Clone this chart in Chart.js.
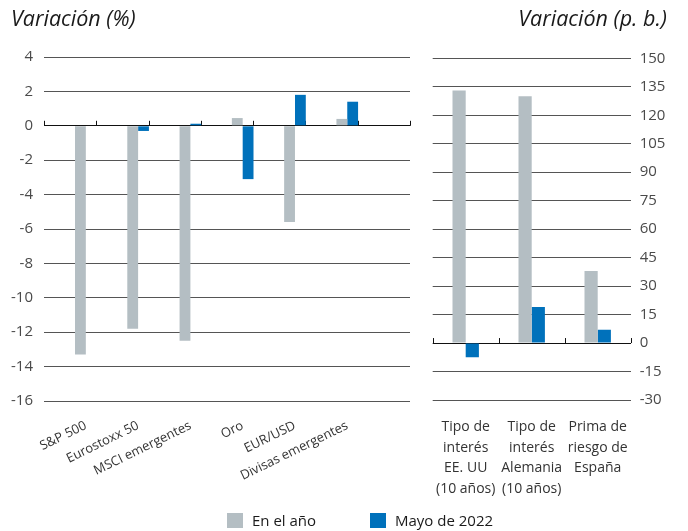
<!DOCTYPE html>
<html>
<head>
<meta charset="utf-8">
<script src="https://cdn.jsdelivr.net/npm/chart.js@4.4.0/dist/chart.umd.min.js"></script>
<style>
  body { margin: 0; width: 688px; height: 531px; position: relative; background: #fff; overflow: hidden; font-family: "Open Sans", sans-serif; }
  #left-wrap { position: absolute; left: 0; top: 0; width: 420px; height: 531px; }
  #right-wrap { position: absolute; left: 420px; top: 0; width: 268px; height: 531px; }
  .title { position: absolute; top: 3px; font-style: italic; font-size: 21.5px; color: #1a1a1a; }
  .legend { position: absolute; top: 510px; font-size: 15px; color: #1a1a1a; display: flex; align-items: center; }
  .legend span.box { display: inline-block; width: 16px; height: 15px; margin-right: 9px; }
</style>
</head>
<body>
<div id="left-wrap"><canvas id="left-canvas"></canvas></div>
<div id="right-wrap"><canvas id="right-canvas"></canvas></div>
<div class="title" style="left:11px">Variación (%)</div>
<div class="title" style="right:21px">Variación (p. b.)</div>
<div id="legend"></div>

<script>
// left panel: markets (%)
const marketLabels = ['S&P 500', 'Eurostoxx 50', 'MSCI emergentes', 'Oro', 'EUR/USD', 'Divisas emergentes'];
const marketYear = [-13.3, -11.8, -12.5, 0.45, -5.6, 0.4];
const marketMay = [0, -0.3, 0.12, -3.1, 1.8, 1.4];
const leftTicks = [-16, -14, -12, -10, -8, -6, -4, -2, 0, 2, 4];

// right panel: rates (basis points)
const rateLabels = [
  ['Tipo de', 'interés', 'EE. UU', '(10 años)'],
  ['Tipo de', 'interés', 'Alemania', '(10 años)'],
  ['Prima de', 'riesgo de', 'España']
];
const rateYear = [133, 130, 38];
const rateMay = [-7.5, 19, 7];
const rightTicks = [-30, -15, 0, 15, 30, 45, 60, 75, 90, 105, 120, 135, 150];

const seriesNames = ['En el año', 'Mayo de 2022'];
const seriesColors = ['#b4bec3', '#0071bb'];

const tickColor = '#4a4a4a';
const gridColor = '#555';

Chart.defaults.font.family = '"Open Sans", sans-serif';
Chart.defaults.animation = false;

// little tick marks sitting on the zero line
const zeroTicks = {
  id: 'zeroTicks',
  beforeDatasetsDraw(chart, args, opts) {
    const x = chart.scales.x, y = chart.scales.y;
    const y0 = y.getPixelForValue(0);
    const ctx = chart.ctx;
    ctx.save();
    ctx.strokeStyle = '#111';
    ctx.lineWidth = 1;
    opts.at.forEach(v => {
      const px = Math.round(x.getPixelForValue(v)) + 0.5;
      ctx.beginPath();
      ctx.moveTo(px, y0);
      ctx.lineTo(px, y0 - 5);
      ctx.stroke();
    });
    ctx.restore();
  }
};

function gridLine(ctx) {
  return ctx.tick && ctx.tick.value === 0 ? '#111' : gridColor;
}

new Chart('left-canvas', {
  type: 'bar',
  data: {
    datasets: [
      { label: seriesNames[0], backgroundColor: seriesColors[0], data: marketYear.map((v, i) => ({ x: i, y: v })) },
      { label: seriesNames[1], backgroundColor: seriesColors[1], data: marketMay.map((v, i) => ({ x: i, y: v })) }
    ]
  },
  options: {
    responsive: true,
    maintainAspectRatio: false,
    layout: { padding: { left: 0, right: 10, top: 57, bottom: 30 } },
    categoryPercentage: 0.414,
    barPercentage: 1,
    plugins: {
      legend: { display: false },
      tooltip: { enabled: false },
      zeroTicks: { at: [-0.8, 0.2, 1.2, 2.2, 3.2, 4.2, 5.2, 6.2] }
    },
    scales: {
      x: {
        type: 'linear',
        offset: false,
        bounds: 'data',
        min: -0.8,
        max: 6.2,
        grid: { display: false, offset: false },
        border: { display: false },
        afterFit: s => { s.height = 100; },
        afterBuildTicks: s => { s.ticks = marketLabels.map((c, i) => ({ value: i })); },
        ticks: {
          autoSkip: false,
          minRotation: 26,
          maxRotation: 26,
          padding: 9,
          color: '#333',
          font: { size: 13 },
          callback: v => marketLabels[v] || ''
        }
      },
      y: {
        min: -16,
        max: 4,
        afterFit: s => { s.width = 44; },
        afterBuildTicks: s => { s.ticks = leftTicks.map(v => ({ value: v })); },
        grid: { color: gridLine, drawTicks: false },
        border: { display: false },
        ticks: { padding: 11, color: tickColor, font: { size: 15 } }
      }
    }
  },
  plugins: [zeroTicks]
});

new Chart('right-canvas', {
  type: 'bar',
  data: {
    labels: rateLabels,
    datasets: [
      { label: seriesNames[0], backgroundColor: seriesColors[0], data: rateYear },
      { label: seriesNames[1], backgroundColor: seriesColors[1], data: rateMay }
    ]
  },
  options: {
    responsive: true,
    maintainAspectRatio: false,
    layout: { padding: { left: 12.7, right: 7.3, top: 58.3, bottom: 31 } },
    categoryPercentage: 0.4,
    barPercentage: 1,
    plugins: {
      legend: { display: false },
      tooltip: { enabled: false },
      zeroTicks: { at: [-0.5, 0.5, 1.5, 2.5] }
    },
    scales: {
      x: {
        grid: { display: false },
        border: { display: false },
        afterFit: s => { s.height = 100; },
        ticks: {
          maxRotation: 0,
          autoSkip: false,
          padding: 9,
          color: '#333',
          font: { size: 14, lineHeight: 1.46 }
        }
      },
      y: {
        position: 'right',
        min: -30,
        max: 150,
        afterFit: s => { s.width = 50; },
        afterBuildTicks: s => { s.ticks = rightTicks.map(v => ({ value: v })); },
        grid: { color: gridLine, drawTicks: false },
        border: { display: false },
        ticks: { padding: 9, color: tickColor, font: { size: 15 } }
      }
    }
  },
  plugins: [zeroTicks]
});

// legend under both panels
const legendLeft = [227, 370];
const legend = document.getElementById('legend');
seriesNames.forEach((name, i) => {
  const item = document.createElement('div');
  item.className = 'legend';
  item.style.left = legendLeft[i] + 'px';
  item.innerHTML = '<span class="box" style="background:' + seriesColors[i] + '"></span>' + name;
  legend.appendChild(item);
});
</script>
</body>
</html>
